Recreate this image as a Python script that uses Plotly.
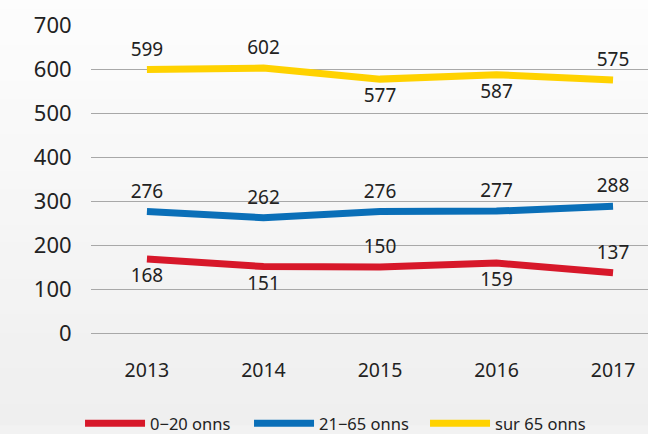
import plotly.graph_objects as go

years = ["2013", "2014", "2015", "2016", "2017"]
age_0_20 = [168, 151, 150, 159, 137]
age_21_65 = [276, 262, 276, 277, 288]
age_65_plus = [599, 602, 577, 587, 575]
names = ["0\u221220 onns", "21\u221265 onns", "sur 65 onns"]
colors = ["#d7182a", "#0a6fb8", "#ffd200"]
pos_red = ["bottom center", "bottom center", "top center", "bottom center", "top center"]
pos_blue = ["top center"] * 5
pos_yellow = ["top center", "top center", "bottom center", "bottom center", "top center"]

FONT = "Noto Sans"
TXT = "#222222"

fig = go.Figure()
legend_ids = ["legend", "legend2", "legend3"]
for vals, name, col, pos, lg in [
    (age_0_20, names[0], colors[0], pos_red, legend_ids[0]),
    (age_21_65, names[1], colors[1], pos_blue, legend_ids[1]),
    (age_65_plus, names[2], colors[2], pos_yellow, legend_ids[2]),
]:
    fig.add_trace(go.Scatter(
        x=years, y=vals, name=name, mode="lines+text+markers",
        line=dict(color=col, width=7),
        marker=dict(size=13, color="rgba(0,0,0,0)"),
        text=[str(v) for v in vals], textposition=pos,
        textfont=dict(family=FONT, size=19, color=TXT),
        hoverinfo="x+y+name", legend=lg,
    ))

# soft vertical gradient background
shapes = []
n = 24
for i in range(n):
    t = i / (n - 1)
    c = int(round(253 - t * 14))
    shapes.append(dict(type="rect", xref="paper", yref="paper",
                       x0=-0.2, x1=1.1, y0=1.1 - (i + 1) * (1.4 / n), y1=1.1 - i * (1.4 / n) + 0.01,
                       fillcolor=f"rgb({c},{c},{c})", line=dict(width=0), layer="below"))

def leg(x):
    return dict(orientation="h", x=x, y=0.024, xref="container", yref="container",
                xanchor="left", yanchor="middle",
                font=dict(family=FONT, size=16.5, color=TXT), itemwidth=60,
                bgcolor="rgba(0,0,0,0)")

fig.update_layout(
    width=648, height=434,
    margin=dict(l=91, r=0, t=25, b=101),
    paper_bgcolor="#f2f2f2",
    plot_bgcolor="rgba(0,0,0,0)",
    shapes=shapes,
    font=dict(family=FONT, color=TXT),
    showlegend=True,
    legend=leg(0.1235),
    legend2=leg(0.3843),
    legend3=leg(0.6559),
    xaxis=dict(type="category", range=[-0.48, 4.3], showgrid=False, zeroline=False,
               showline=False, ticks="outside", ticklen=20, tickcolor="rgba(0,0,0,0)",
               automargin=False,
               tickfont=dict(family=FONT, size=19.5, color=TXT)),
    yaxis=dict(range=[0, 700], dtick=100, showgrid=True, gridcolor="#a8a8a8", gridwidth=1,
               zeroline=True, zerolinecolor="#a8a8a8", zerolinewidth=1, showline=False,
               ticks="outside", ticklen=14, tickcolor="rgba(0,0,0,0)",
               automargin=False,
               tickfont=dict(family=FONT, size=22, color=TXT)),
)

fig.write_html("out.html", config={"displayModeBar": False},
               post_script="document.body.style.margin='0';document.body.style.overflow='hidden';")
